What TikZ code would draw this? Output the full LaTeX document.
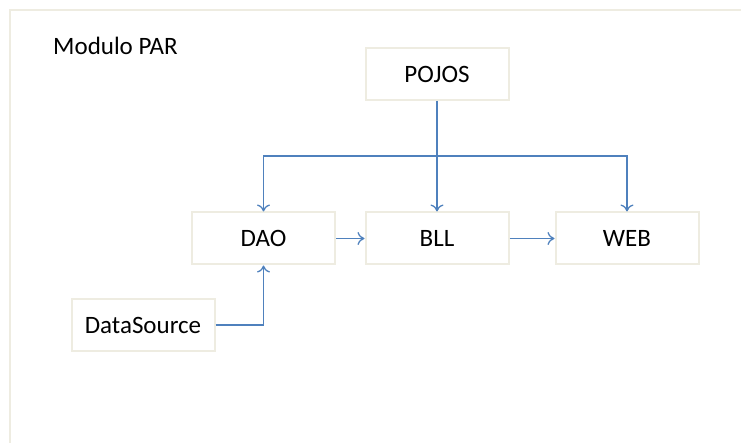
\documentclass[tikz,border=0pt]{standalone}
\usepackage{fontspec}
\setmainfont{Carlito}
\usetikzlibrary{arrows.meta}
\definecolor{boxline}{HTML}{EEECE1}
\definecolor{linkblue}{HTML}{4F81BD}
\begin{document}
\begin{tikzpicture}[x=1pt,y=-1pt,
  block/.style={draw=boxline,line width=2pt,fill=white,minimum width=143pt,minimum height=52pt,inner sep=0pt,font=\fontsize{25}{30}\selectfont,anchor=center},
  link/.style={draw=linkblue,line width=1.3pt,-{To[length=7pt,width=13pt,line width=1.3pt]}},
  plain/.style={draw=linkblue,line width=1.3pt}]
\useasboundingbox (0,0) rectangle (741,443);
\begin{scope}
\clip (0,0) rectangle (741,443);
\draw[boxline,line width=2pt] (10,10) rectangle (760,460);
\end{scope}
\node[anchor=base west,font=\fontsize{25}{30}\selectfont,inner sep=0pt] (title) at (53,55) {Modulo PAR};
\node[block] (pojos) at (437,74) {POJOS};
\node[block] (dao) at (263.5,238.5) {DAO};
\node[block] (bll) at (437,238.5) {BLL};
\node[block] (web) at (627,238.5) {WEB};
\node[block] (ds) at (143,325) {DataSource};
\coordinate (split) at (437,156);
\draw[plain] (pojos.south) -- (split);
\draw[link] (split) -| (dao.north);
\draw[link] (split) -- (bll.north);
\draw[link] (split) -| (web.north);
\draw[link] (dao.east) -- (bll.west);
\draw[link] (bll.east) -- (web.west);
\draw[link] (ds.east) -| (dao.south);
\end{tikzpicture}
\end{document}
